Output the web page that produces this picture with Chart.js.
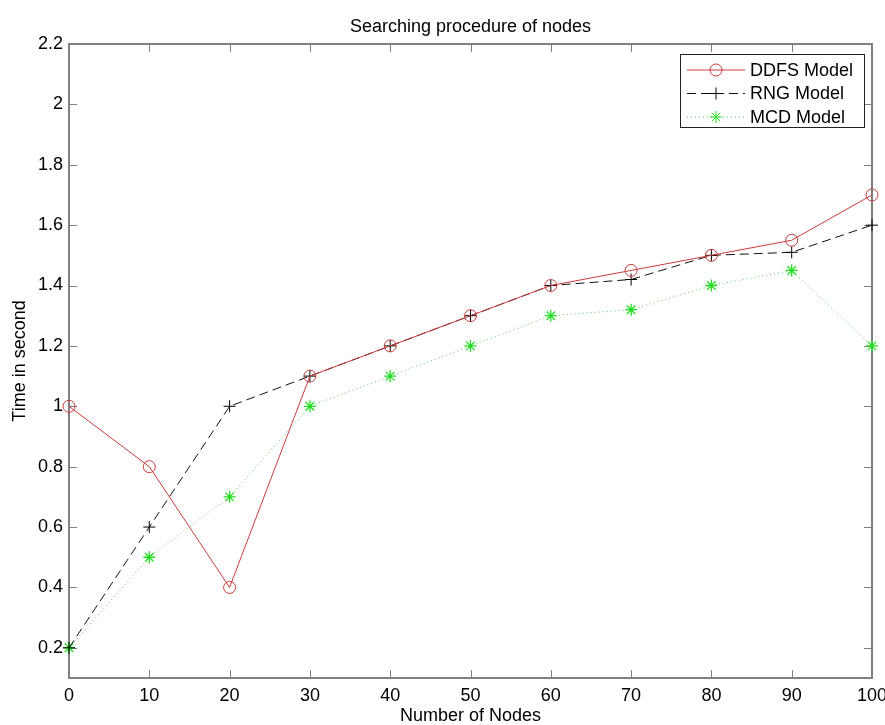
<!DOCTYPE html>
<html>
<head>
<meta charset="utf-8">
<script src="https://cdn.jsdelivr.net/npm/chart.js@4.4.1/dist/chart.umd.min.js"></script>
<style>
  html, body { margin: 0; padding: 0; background: #fff; }
  #wrap { width: 885px; height: 725px; }
</style>
</head>
<body>
<div id="wrap"><canvas id="line_chart" width="885" height="725"></canvas></div>
<script>
// data
var nodes = [0, 10, 20, 30, 40, 50, 60, 70, 80, 90, 100];
var ddfs = [1.0, 0.8, 0.4, 1.1, 1.2, 1.3, 1.4, 1.45, 1.5, 1.55, 1.7];
var rng  = [0.2, 0.6, 1.0, 1.1, 1.2, 1.3, 1.4, 1.42, 1.5, 1.51, 1.6];
var mcd  = [0.2, 0.5, 0.7, 1.0, 1.1, 1.2, 1.3, 1.32, 1.4, 1.45, 1.2];
var yTicks = [0.2, 0.4, 0.6, 0.8, 1.0, 1.2, 1.4, 1.6, 1.8, 2.0, 2.2];
var xTicks = [0, 10, 20, 30, 40, 50, 60, 70, 80, 90, 100];

var FONT = '"Liberation Sans", Arial, sans-serif';
var AXIS = '#808080';

// matlab style box with inward ticks + legend box
var matlabBox = {
    id: 'matlabBox',
    beforeDatasetsDraw: function(chart) {
        var ctx = chart.ctx, a = chart.chartArea;
        var xs = chart.scales.x, ys = chart.scales.y;
        var tl = 8;
        ctx.save();
        ctx.strokeStyle = AXIS;
        ctx.lineWidth = 1;
        ctx.beginPath();
        xTicks.forEach(function(v) {
            var px = Math.round(xs.getPixelForValue(v)) + 0.5;
            ctx.moveTo(px, a.bottom); ctx.lineTo(px, a.bottom - tl);
            ctx.moveTo(px, a.top); ctx.lineTo(px, a.top + tl);
        });
        yTicks.forEach(function(v) {
            var py = Math.round(ys.getPixelForValue(v)) + 0.5;
            ctx.moveTo(a.left, py); ctx.lineTo(a.left + tl, py);
            ctx.moveTo(a.right, py); ctx.lineTo(a.right - tl, py);
        });
        ctx.stroke();
        ctx.lineWidth = 2;
        ctx.strokeRect(a.left, a.top, a.right - a.left, a.bottom - a.top);
        ctx.restore();
    },
    afterDraw: function(chart) {
        var ctx = chart.ctx, a = chart.chartArea;
        var bx = a.right - 8 - 184, by = a.top + 10, bw = 184, bh = 73;
        ctx.save();
        ctx.fillStyle = '#fff';
        ctx.fillRect(bx, by, bw, bh);
        ctx.strokeStyle = '#222';
        ctx.lineWidth = 1;
        ctx.strokeRect(bx + 0.5, by + 0.5, bw, bh);
        chart.data.datasets.forEach(function(ds, i) {
            var cy = by + 16 + i * 23.5;
            ctx.save();
            ctx.strokeStyle = ds.borderColor;
            ctx.lineWidth = ds.borderWidth;
            ctx.setLineDash(ds.borderDash || []);
            ctx.beginPath();
            ctx.moveTo(bx + 7, cy); ctx.lineTo(bx + 65, cy);
            ctx.stroke();
            ctx.restore();
            ctx.strokeStyle = ds.pointBorderColor;
            ctx.fillStyle = 'rgba(0,0,0,0)';
            ctx.lineWidth = 1;
            Chart.helpers.drawPoint(ctx, {pointStyle: ds.pointStyle, radius: ds.pointRadius, borderWidth: 1, rotation: 0}, bx + 36, cy);
            ctx.fillStyle = '#000';
            ctx.font = '18px ' + FONT;
            ctx.textBaseline = 'middle';
            ctx.textAlign = 'left';
            ctx.fillText(ds.label, bx + 70, cy + 1);
        });
        ctx.restore();
    }
};

var lineData = {
    labels: nodes,
    datasets: [
        {
            label: 'DDFS Model',
            data: ddfs,
            borderColor: '#c83c3c',
            borderWidth: 1,
            pointStyle: 'circle',
            pointRadius: 6,
            pointBorderColor: '#c83c3c',
            pointBackgroundColor: 'rgba(0,0,0,0)',
            pointBorderWidth: 1,
            fill: false,
            clip: false
        }, {
            label: 'RNG Model',
            data: rng,
            borderColor: '#111',
            borderWidth: 1,
            borderDash: [9, 5],
            pointStyle: 'cross',
            pointRadius: 6,
            pointBorderColor: '#000',
            pointBorderWidth: 1,
            fill: false,
            clip: false
        }, {
            label: 'MCD Model',
            data: mcd,
            borderColor: '#55cc55',
            borderWidth: 1,
            borderDash: [1, 3],
            pointStyle: 'star',
            pointRadius: 6,
            pointBorderColor: '#22dd22',
            pointBorderWidth: 1.3,
            fill: false,
            clip: false
        }
    ]
};

var lineOptions = {
    responsive: false,
    animation: false,
    layout: { padding: { right: 13 } },
    plugins: {
        legend: { display: false },
        tooltip: { enabled: false },
        title: {
            display: true,
            fullSize: false,
            text: 'Searching procedure of nodes',
            color: '#000',
            font: { family: FONT, size: 18, weight: 'normal', lineHeight: 1 },
            padding: { top: 18, bottom: 8 }
        }
    },
    scales: {
        x: {
            type: 'linear',
            min: 0,
            max: 100,
            afterFit: function(s) { s.height = 47; s.paddingLeft = 0; s.paddingRight = 0; },
            afterBuildTicks: function(s) { s.ticks = xTicks.map(function(v) { return {value: v}; }); },
            grid: { drawOnChartArea: false, drawTicks: false },
            border: { display: false },
            ticks: { color: '#000', padding: 7, maxRotation: 0, font: { family: FONT, size: 18 } },
            title: {
                display: true,
                text: 'Number of Nodes',
                color: '#000',
                font: { family: FONT, size: 18, lineHeight: 1 },
                padding: { top: 0, bottom: 0 }
            }
        },
        y: {
            type: 'linear',
            min: 0.1,
            max: 2.2,
            afterFit: function(s) { s.width = 69; },
            afterBuildTicks: function(s) { s.ticks = yTicks.map(function(v) { return {value: v}; }); },
            grid: { drawOnChartArea: false, drawTicks: false },
            border: { display: false },
            ticks: {
                color: '#000',
                padding: 6,
                font: { family: FONT, size: 18 },
                callback: function(v) { return String(Number(v.toFixed(1))); }
            },
            title: {
                display: true,
                text: 'Time in second',
                color: '#000',
                font: { family: FONT, size: 18, lineHeight: 1 },
                padding: { top: 11, bottom: 0 }
            }
        }
    }
};

var ctx = document.getElementById('line_chart').getContext('2d');
new Chart(ctx, {type: 'line', data: lineData, options: lineOptions, plugins: [matlabBox]});
</script>
</body>
</html>
